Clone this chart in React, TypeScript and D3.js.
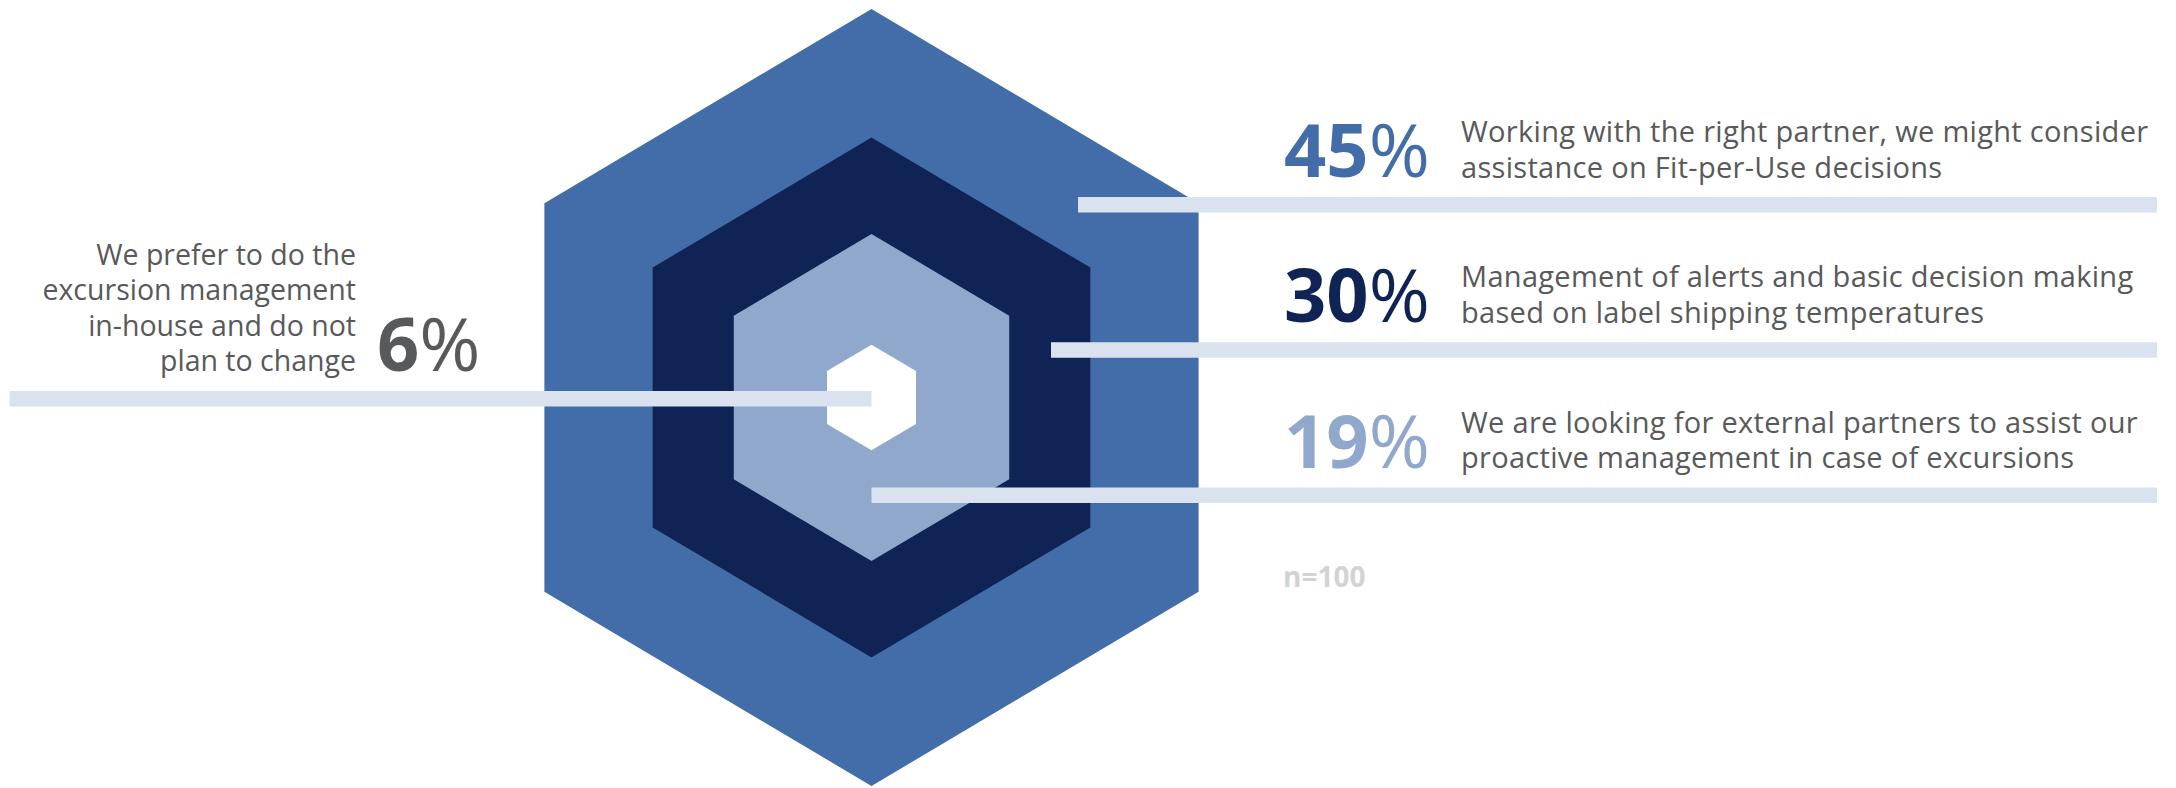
import React from "react";
import * as d3 from "d3";

// ---------- DATA ----------
const categories = ["fitForUse", "alertsBasic", "externalPartners", "inHouse"];
const shares = [45, 30, 19, 6];
const shareLabels = ["45", "30", "19", "6"];
const labelLines = [
  ["Working with the right partner, we might consider", "assistance on Fit-per-Use decisions"],
  ["Management of alerts and basic decision making", "based on label shipping temperatures"],
  ["We are looking for external partners to assist our", "proactive management in case of excursions"],
  ["We prefer to do the", "excursion management", "in-house and do not", "plan to change"],
];
const sampleNote = "n=100";

// ---------- LAYOUT / STYLE ----------
const W = 2176;
const H = 788;
const CX = 871.5;
const CY = 397.5;
const OUTER_R = 388.5;
const HEX_ASPECT = 0.842; // half-width / radius
const ringSize = d3.scaleOrdinal<string, number>().domain(categories).range([1, 0.669, 0.421, 0.136]);
const ringColor = d3.scaleOrdinal<string, string>().domain(categories).range(["#436da8", "#0f2454", "#8fa8cc", "#ffffff"]);
const pctColor = d3.scaleOrdinal<string, string>().domain(categories).range(["#436da8", "#0f2454", "#8fa8cc", "#58595b"]);
const barColor = "#dbe2ef";
const textColor = "#58595b";
const FONT = "'Open Sans', 'Noto Sans', sans-serif";

const rowY = d3.scaleLinear().domain([0, 2]).range([197, 487.5]); // bar top for right rows
const barStart = d3.scaleOrdinal<string, number>().domain(categories).range([1078, 1051, CX, 9.5]);
const BAR_END = 2157;
const BAR_H = 15.5;
const PCT_X = 1284;
const DESC_X = 1461;
const LINE_GAP = 35.5;

function hexPoints(r: number): [number, number][] {
  const hw = r * HEX_ASPECT;
  return [
    [CX, CY - r],
    [CX + hw, CY - r / 2],
    [CX + hw, CY + r / 2],
    [CX, CY + r],
    [CX - hw, CY + r / 2],
    [CX - hw, CY - r / 2],
  ];
}

const hexLine = d3.line<[number, number]>().curve(d3.curveLinearClosed);

export default function App() {
  const rightRows = categories.slice(0, 3);
  const leftKey = categories[3];
  const leftBarY = 391;
  const leftLastBaseline = 371;
  const leftLineGap = 35.5;

  return (
    <svg
      width={W}
      height={H}
      viewBox={`0 0 ${W} ${H}`}
      style={{ position: "absolute", left: 0, top: 0, background: "#ffffff" }}
      fontFamily={FONT}
    >
      {/* hexagon rings, outer to inner */}
      {categories.map((c) => (
        <path key={c} d={hexLine(hexPoints(OUTER_R * ringSize(c))) || ""} fill={ringColor(c)} />
      ))}

      {/* right-side bars and labels */}
      {rightRows.map((c, i) => {
        const y = rowY(i);
        return (
          <g key={c}>
            <rect x={barStart(c)} y={y} width={BAR_END - barStart(c)} height={BAR_H} fill={barColor} />
            <text x={PCT_X} y={y - 20} fontSize={74} fontWeight={700} fill={pctColor(c)}>
              {shareLabels[i]}
              <tspan fontWeight={400}>%</tspan>
            </text>
            {labelLines[i].map((line, j) => (
              <text
                key={j}
                x={DESC_X}
                y={y - 55 + j * LINE_GAP}
                fontSize={29}
                letterSpacing={0.3}
                fill={textColor}
              >
                {line}
              </text>
            ))}
          </g>
        );
      })}

      {/* left bar and label */}
      <rect x={barStart(leftKey)} y={leftBarY} width={CX - barStart(leftKey)} height={BAR_H} fill={barColor} />
      {labelLines[3].map((line, j) => (
        <text
          key={j}
          x={356}
          y={leftLastBaseline - (labelLines[3].length - 1 - j) * leftLineGap}
          fontSize={28.5}
          textAnchor="end"
          fill={textColor}
        >
          {line}
        </text>
      ))}
      <text x={377} y={leftLastBaseline} fontSize={74} fontWeight={700} fill={pctColor(leftKey)}>
        {shareLabels[3]}
        <tspan fontWeight={400}>%</tspan>
      </text>

      {/* sample size */}
      <text x={1283} y={587} fontSize={28} fontWeight={700} fill="#d3d3d3">
        {sampleNote}
      </text>
      {/* shares kept for reference: {shares.join(",")} */}
    </svg>
  );
}
